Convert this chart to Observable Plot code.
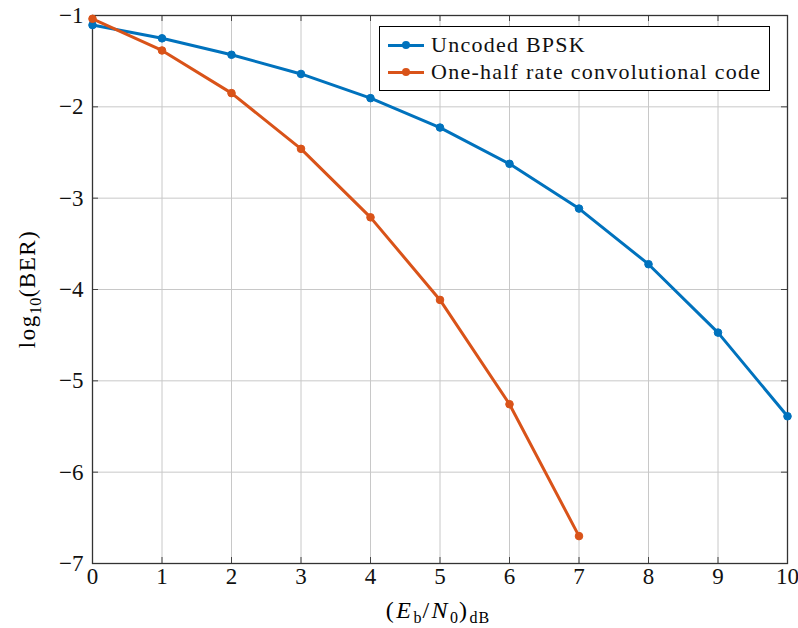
<!DOCTYPE html>
<html><head><meta charset="utf-8">
<script src="https://cdn.jsdelivr.net/npm/d3@7"></script>
<script src="https://cdn.jsdelivr.net/npm/@observablehq/plot@0.6"></script>
<style>
body{margin:0;background:#fff;font-family:"Liberation Serif",serif;}
#wrap{position:relative;width:798px;height:628px;}
#wrap svg{position:absolute;left:0;top:0;}
#wrap svg text{font-family:"Liberation Serif",serif !important;}
.legend{position:absolute;left:379px;top:26px;width:391px;height:65px;box-sizing:border-box;border:1px solid #000;background:#fff;font-size:22px;letter-spacing:1.25px;color:#111;}
.row{position:absolute;left:8px;height:26px;display:flex;align-items:center;white-space:nowrap;}
.sw{position:relative;width:36px;height:3px;margin-right:7px;}
.sw i{position:absolute;left:14px;top:-2.5px;width:8px;height:8px;border-radius:50%;}
.xlab{position:absolute;font-size:24px;white-space:nowrap;transform:translate(-50%,-50%);left:438px;top:612px;letter-spacing:2.5px;}
.xlab sub{font-size:16px;letter-spacing:1px;}
.ylab{position:absolute;left:30px;top:289px;transform:translate(-50%,-50%) rotate(-90deg);font-size:23px;white-space:nowrap;letter-spacing:1.5px;}
.ylab sub{font-size:16px;letter-spacing:0.5px;}
</style></head><body><div id="wrap"></div>
<script>
const ebn0 = [0, 1, 2, 3, 4, 5, 6, 7, 8, 9, 10];
const uncodedBER = [-1.105, -1.25, -1.43, -1.64, -1.905, -2.227, -2.624, -3.114, -3.723, -4.472, -5.388];
const codedEbn0 = [0, 1, 2, 3, 4, 5, 6, 7];
const codedBER = [-1.036, -1.383, -1.85, -2.46, -3.21, -4.114, -5.256, -6.70];
const xTicks = [0, 1, 2, 3, 4, 5, 6, 7, 8, 9, 10];
const yTicks = [-7, -6, -5, -4, -3, -2, -1];
const seriesNames = ["Uncoded BPSK", "One-half rate convolutional code"];
const seriesColors = ["#0072BD", "#D95319"];

const data = [
  ...ebn0.map((x, i) => ({x, y: uncodedBER[i], s: seriesNames[0]})),
  ...codedEbn0.map((x, i) => ({x, y: codedBER[i], s: seriesNames[1]}))
];

const W = 798, H = 628, mL = 92, mR = 11, mT = 15, mB = 65;
const innerH = H - mT - mB, innerW = W - mL - mR;
const tickColor = "#444";
const fmt = d => String(d).replace("-", "\u2212");
const serif = "Liberation Serif, serif";

const plot = Plot.plot({
  width: W, height: H,
  marginLeft: mL, marginRight: mR, marginTop: mT, marginBottom: mB,
  style: {fontFamily: serif, fontSize: "23px", color: "#111", background: "#fff", overflow: "visible"},
  x: {domain: [0, 10], ticks: xTicks},
  y: {domain: [-7, -1], ticks: yTicks},
  color: {domain: seriesNames, range: seriesColors},
  marks: [
    Plot.gridX(xTicks, {stroke: "#c8c8c8", strokeOpacity: 1, strokeWidth: 1}),
    Plot.gridY(yTicks, {stroke: "#c8c8c8", strokeOpacity: 1, strokeWidth: 1}),
    Plot.tickX(xTicks, {x: d => d, insetTop: innerH - 6, stroke: tickColor}),
    Plot.tickX(xTicks, {x: d => d, insetBottom: innerH - 6, stroke: tickColor}),
    Plot.tickY(yTicks, {y: d => d, insetRight: innerW - 6, stroke: tickColor}),
    Plot.tickY(yTicks, {y: d => d, insetLeft: innerW - 6, stroke: tickColor}),
    Plot.frame({stroke: "#333", strokeWidth: 1.3}),
    Plot.axisX(xTicks, {tickSize: 0, tickPadding: 4, label: null, fontSize: 23, fontFamily: serif, tickFormat: fmt}),
    Plot.axisY(yTicks, {tickSize: 0, tickPadding: 9, label: null, fontSize: 23, fontFamily: serif, tickFormat: fmt}),
    Plot.line(data, {x: "x", y: "y", z: "s", stroke: "s", strokeWidth: 3}),
    Plot.dot(data, {x: "x", y: "y", fill: "s", r: 3.8, stroke: "s", strokeWidth: 1})
  ]
});

const wrap = document.getElementById("wrap");
wrap.appendChild(plot);

const leg = document.createElement("div");
leg.className = "legend";
seriesNames.forEach((name, i) => {
  const row = document.createElement("div");
  row.className = "row";
  row.style.top = (5 + i * 27) + "px";
  row.innerHTML = `<span class="sw" style="background:${seriesColors[i]}"><i style="background:${seriesColors[i]}"></i></span><span>${name}</span>`;
  leg.appendChild(row);
});
wrap.appendChild(leg);

const xl = document.createElement("div");
xl.className = "xlab";
xl.innerHTML = "(<i>E</i><sub>b</sub>/<i>N</i><sub>0</sub>)<sub>dB</sub>";
wrap.appendChild(xl);

const yl = document.createElement("div");
yl.className = "ylab";
yl.innerHTML = "log<sub>10</sub>(BER)";
wrap.appendChild(yl);
</script></body></html>
